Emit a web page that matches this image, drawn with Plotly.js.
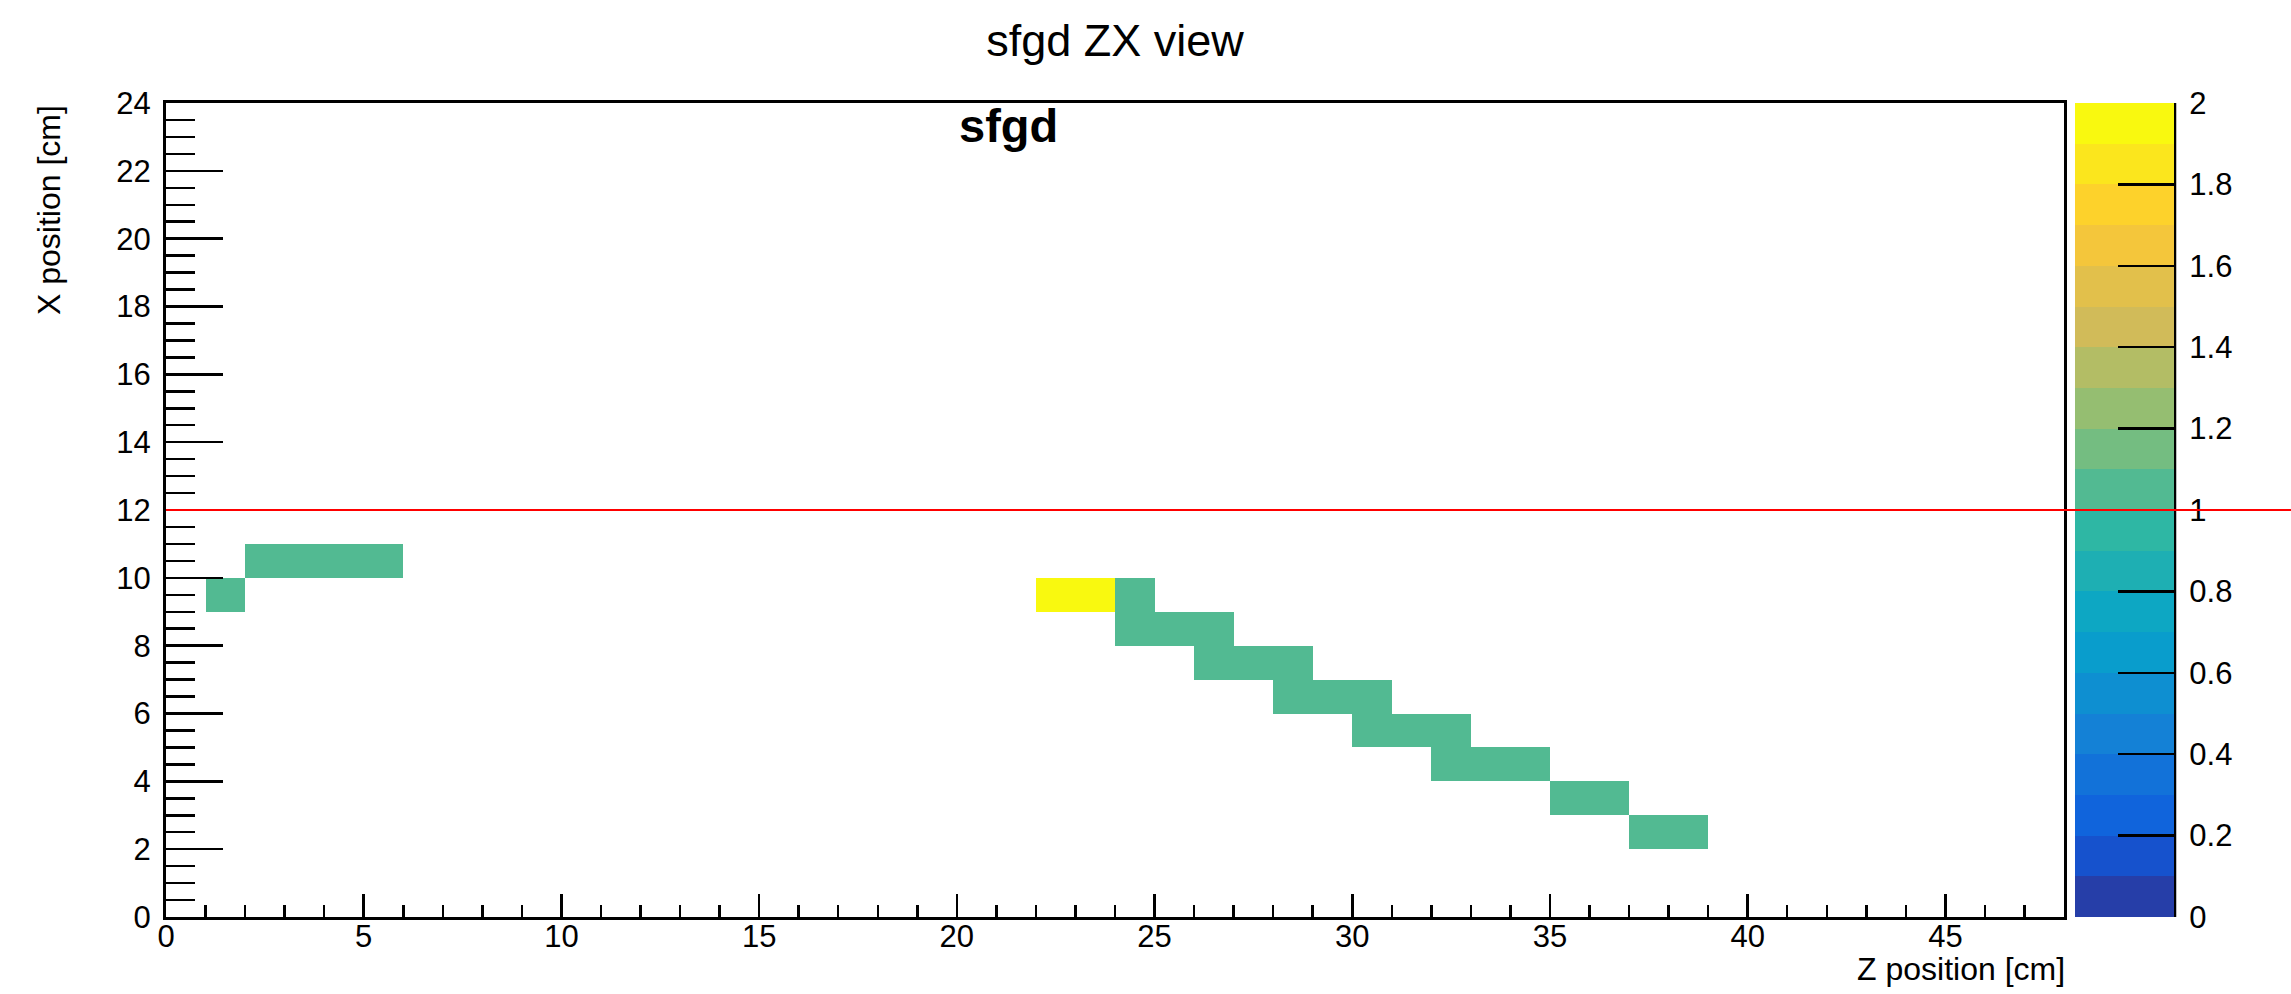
<!DOCTYPE html>
<html>
<head>
<meta charset="utf-8">
<script src="https://cdn.plot.ly/plotly-3.0.1.min.js"></script>
<style>html,body{margin:0;padding:0;background:#fff;}</style>
</head>
<body>
<div id="chart" style="width:2291px;height:994px;"></div>
<script>
// ---- data (bin lower edges in cm, 1 cm bins) ----
const zBinLow   = [1, 2, 3, 4, 5, 22, 23, 24, 24, 25, 26, 26, 27, 28, 28, 29, 30, 30, 31, 32, 32, 33, 34, 35, 36, 37, 38];
const xBinLow   = [9, 10, 10, 10, 10, 9, 9, 9, 8, 8, 8, 7, 7, 7, 6, 6, 6, 5, 5, 5, 4, 4, 4, 3, 3, 2, 2];
const hitValue  = [1, 1, 1, 1, 1, 2, 2, 1, 1, 1, 1, 1, 1, 1, 1, 1, 1, 1, 1, 1, 1, 1, 1, 1, 1, 1, 1];
const zAxisRange = [0, 48];
const xAxisRange = [0, 24];
const colorRange = [0, 2];
const referenceLineX = 12;
const chartTitle = 'sfgd ZX view';
const histName = 'sfgd';
const zAxisTitle = 'Z position [cm]';
const xAxisTitle = 'X position [cm]';

// ---- build histogram grid ----
const binW = 1;
const nZ = (zAxisRange[1] - zAxisRange[0]) / binW;
const nX = (xAxisRange[1] - xAxisRange[0]) / binW;
const zCenters = Array.from({length: nZ}, (_, i) => zAxisRange[0] + (i + 0.5) * binW);
const xCenters = Array.from({length: nX}, (_, j) => xAxisRange[0] + (j + 0.5) * binW);
const grid = Array.from({length: nX}, () => Array(nZ).fill(null));
for (let k = 0; k < zBinLow.length; k++) {
  const i = Math.round((zBinLow[k] - zAxisRange[0]) / binW);
  const j = Math.round((xBinLow[k] - xAxisRange[0]) / binW);
  grid[j][i] = hitValue[k];
}

// ---- ROOT kBird palette, 20 contours ----
const bStops = [0, 0.125, 0.25, 0.375, 0.5, 0.625, 0.75, 0.875, 1];
const bR = [0.2082, 0.0592, 0.0780, 0.0232, 0.1802, 0.5301, 0.8186, 0.9956, 0.9764];
const bG = [0.1664, 0.3599, 0.5041, 0.6419, 0.7178, 0.7492, 0.7328, 0.7862, 0.9832];
const bB = [0.5293, 0.8684, 0.8385, 0.7914, 0.6425, 0.4662, 0.3499, 0.1968, 0.0539];
const NCOL = 255;
const pal = [];
for (let g = 1; g < bStops.length; g++) {
  const nc = Math.floor(NCOL * bStops[g]) - Math.floor(NCOL * bStops[g - 1]);
  for (let c = 0; c < nc; c++) {
    const t = c / nc;
    pal.push([bR[g-1] + t * (bR[g] - bR[g-1]), bG[g-1] + t * (bG[g] - bG[g-1]), bB[g-1] + t * (bB[g] - bB[g-1])]);
  }
}
const nContours = 20;
const colorscale = [];
for (let i = 0; i < nContours; i++) {
  const idx = Math.min(pal.length - 1, Math.floor((i + 0.99) * NCOL / nContours));
  const c = pal[idx];
  const col = 'rgb(' + Math.round(c[0]*255) + ',' + Math.round(c[1]*255) + ',' + Math.round(c[2]*255) + ')';
  colorscale.push([i / nContours, col]);
  colorscale.push([(i + 1) / nContours, col]);
}

// ---- layout geometry ----
const W = 2291, H = 994;
const M = {l: 166, r: 227, t: 103, b: 77, pad: 0, autoexpand: false};
const plotW = W - M.l - M.r;
const plotH = H - M.t - M.b;
const cbThick = 99;
const cbLeftPx = 2075;
const cbX = (cbLeftPx - M.l) / plotW;
const cbRight = (cbLeftPx + cbThick + 1 - M.l) / plotW;
const FONT = '"Liberation Sans", Arial, Helvetica, sans-serif';

const trace = {
  type: 'heatmap',
  x: zCenters,
  y: xCenters,
  z: grid,
  zmin: colorRange[0],
  zmax: colorRange[1],
  colorscale: colorscale,
  hoverinfo: 'skip',
  colorbar: {
    x: cbX, xanchor: 'left', xref: 'paper', xpad: 0,
    y: 0, yanchor: 'bottom', yref: 'paper', ypad: 0,
    len: 1, lenmode: 'fraction',
    thickness: cbThick, thicknessmode: 'pixels',
    outlinewidth: 0,
    ticks: 'inside', ticklen: 56, tickwidth: 2.5, tickcolor: '#000',
    tickmode: 'linear', tick0: 0, dtick: 0.2,
    tickprefix: '\u00A0',
    tickfont: {family: FONT, size: 31, color: '#000'}
  }
};

const layout = {
  width: W, height: H,
  margin: M,
  paper_bgcolor: '#fff', plot_bgcolor: '#fff',
  showlegend: false,
  font: {family: FONT, color: '#000'},
  title: {
    text: chartTitle,
    font: {family: FONT, size: 45, color: '#000'},
    x: 0.5, xref: 'paper', xanchor: 'center',
    y: 1 - 40 / H, yref: 'container', yanchor: 'middle'
  },
  xaxis: {
    range: zAxisRange, autorange: false,
    tickmode: 'linear', tick0: 0, dtick: 5,
    ticks: 'inside', ticklen: 23, tickwidth: 2.5, tickcolor: '#000',
    minor: {tickmode: 'linear', tick0: 0, dtick: 1, ticks: 'inside', ticklen: 12, tickwidth: 2.5, tickcolor: '#000', showgrid: false},
    showline: true, linewidth: 3, linecolor: '#000', mirror: true,
    showgrid: false, zeroline: false,
    ticklabelstandoff: -10,
    tickfont: {family: FONT, size: 31, color: '#000'}
  },
  yaxis: {
    range: xAxisRange, autorange: false,
    tickmode: 'linear', tick0: 0, dtick: 2,
    ticks: 'inside', ticklen: 57, tickwidth: 2.5, tickcolor: '#000',
    minor: {tickmode: 'linear', tick0: 0, dtick: 0.5, ticks: 'inside', ticklen: 29, tickwidth: 2.5, tickcolor: '#000', showgrid: false},
    showline: true, linewidth: 3, linecolor: '#000', mirror: true,
    showgrid: false, zeroline: false,
    ticklabelstandoff: 6,
    tickfont: {family: FONT, size: 31, color: '#000'}
  },
  shapes: [
    {type: 'line', xref: 'paper', yref: 'y', x0: 0, x1: 1.25, y0: referenceLineX, y1: referenceLineX,
     line: {color: '#ff0000', width: 2}, layer: 'above'},
    {type: 'line', xref: 'paper', yref: 'paper', x0: cbRight, x1: cbRight, y0: 0, y1: 1,
     line: {color: '#000', width: 2.5}, layer: 'above'}
  ],
  annotations: [
    {text: '<b>' + histName + '</b>', xref: 'paper', yref: 'paper', x: (1008 - M.l) / plotW, y: 1,
     xanchor: 'center', yanchor: 'top', yshift: 6, showarrow: false,
     font: {family: FONT, size: 47, color: '#000'}},
    {text: xAxisTitle, xref: 'paper', yref: 'paper', x: (49 - M.l) / plotW, y: 1,
     xanchor: 'center', yanchor: 'top', textangle: -90, showarrow: false,
     font: {family: FONT, size: 32, color: '#000'}},
    {text: zAxisTitle, xref: 'paper', yref: 'paper', x: 1, y: -(969 - (H - M.b)) / plotH,
     xanchor: 'right', yanchor: 'middle', xshift: 3, showarrow: false,
     font: {family: FONT, size: 32, color: '#000'}},
    // red reference line continued over the colour scale
    {text: ' ', xref: 'paper', yref: 'y', x: 1, y: referenceLineX,
     showarrow: true, arrowhead: 0, arrowwidth: 2, arrowcolor: '#ff0000', standoff: 0, startstandoff: 0,
     axref: 'pixel', ayref: 'pixel', ax: W - (M.l + plotW) + 10, ay: 0}
  ]
};

Plotly.newPlot('chart', [trace], layout, {staticPlot: true, displayModeBar: false});
</script>
</body>
</html>
